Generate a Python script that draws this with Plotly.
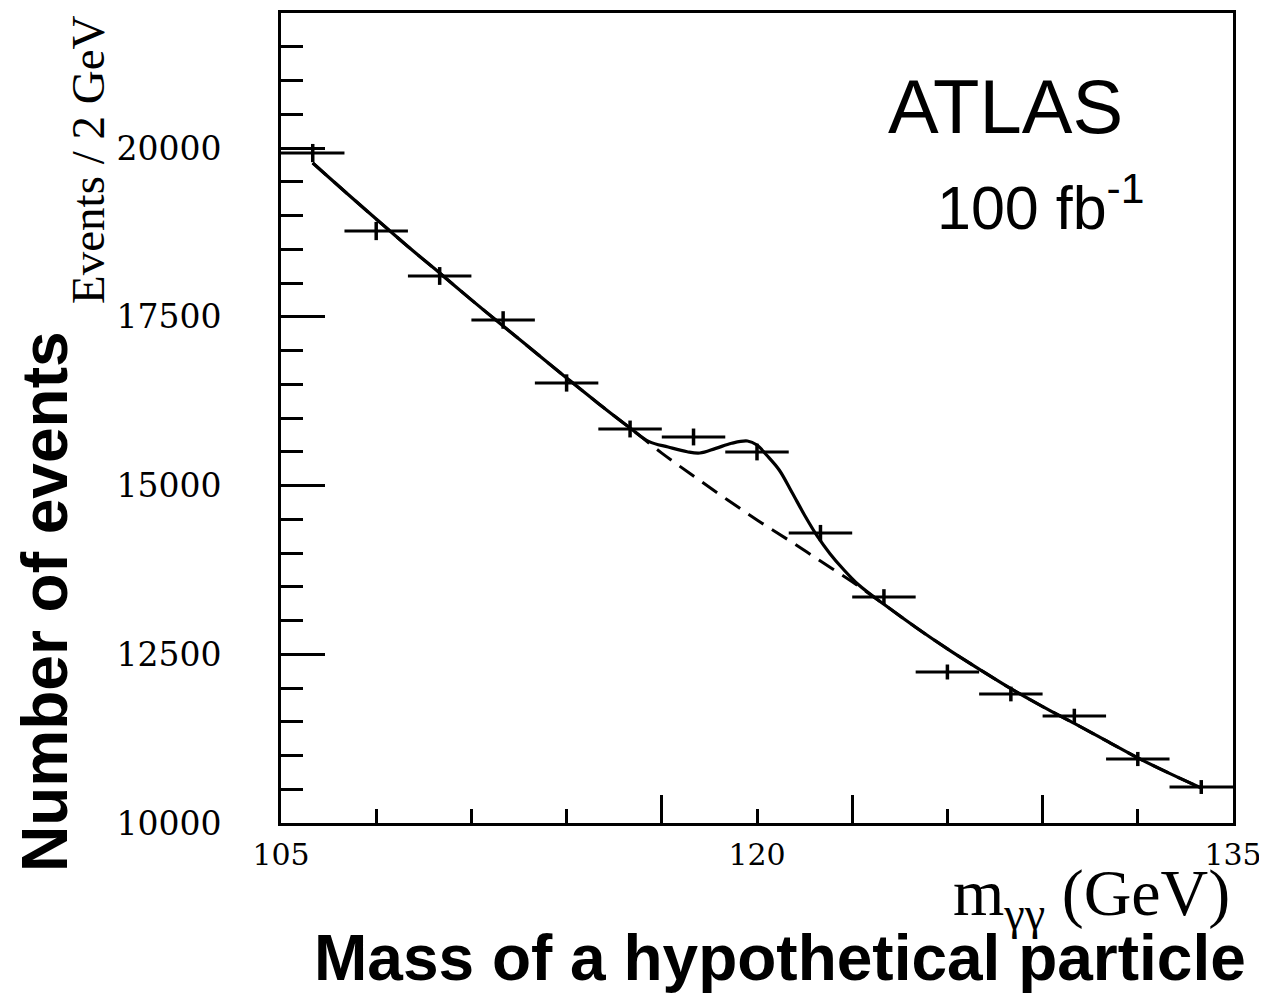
import plotly.graph_objects as go

# ---- data ----
mass = [106, 108, 110, 112, 114, 116, 118, 120, 122, 124, 126, 128, 130, 132, 134]
events = [19925, 18770, 18104, 17452, 16519, 15837, 15719, 15496, 14296, 13348,
          12237, 11911, 11585, 10948, 10533]
events_err = [135, 135, 132, 130, 128, 125, 125, 124, 120, 116, 111, 109, 108, 105, 103]
BIN_WIDTH = 2.0

bkg_mass = [106, 107, 108, 109, 110, 111, 112, 113, 114, 115, 116, 117, 118, 119, 120,
            121, 122, 123, 124, 125, 126, 127, 128, 129, 130, 131, 132, 133, 134]
bkg_events = [19778, 19360, 18948, 18540, 18148, 17750, 17363, 16978, 16593, 16215,
              15852, 15480, 15140, 14810, 14490, 14190, 13880, 13575, 13240, 12900,
              12580, 12280, 11990, 11725, 11475, 11220, 10965, 10735, 10519]

fit_mass = [106, 107, 108, 109, 110, 111, 112, 113, 114, 115, 116, 116.6, 117.2, 117.8,
            118.2, 118.7, 119.2, 119.7, 120.0, 120.3, 120.7, 121.1, 121.5, 121.9, 122.3,
            122.7, 123.2, 124, 125, 126, 127, 128, 129, 130, 131, 132, 133, 134]
fit_events = [19778, 19360, 18948, 18540, 18148, 17750, 17363, 16978, 16593, 16215,
              15852, 15650, 15570, 15500, 15481, 15550, 15625, 15659, 15600, 15452,
              15230, 14900, 14560, 14250, 13990, 13770, 13530, 13240, 12900, 12580,
              12280, 11990, 11725, 11475, 11220, 10965, 10735, 10519]

x_major_ticks = [105, 120, 135]
x_long_ticks = [117, 123, 129]
y_range = [10000, 22000]
x_range = [105, 135]

SERIF = "DejaVu Serif"
TIMES = "Liberation Serif, Times New Roman"
SANS = "Liberation Sans, Arial"

# page has an 8px body margin: keep the figure inside the window
FIG_W, FIG_H = 1259, 986
ML, MT, PW, PH = 273, 5, 952, 810

fig = go.Figure()
fig.add_trace(go.Scatter(
    x=bkg_mass, y=bkg_events, mode="lines",
    line=dict(color="black", width=3, dash="18px,10px", shape="spline"),
    hoverinfo="skip", showlegend=False))
fig.add_trace(go.Scatter(
    x=fit_mass, y=fit_events, mode="lines",
    line=dict(color="black", width=3.2, shape="spline"),
    hoverinfo="skip", showlegend=False))
fig.add_trace(go.Scatter(
    x=mass, y=events, mode="markers",
    marker=dict(size=1, color="black"),
    error_x=dict(type="constant", value=BIN_WIDTH / 2, thickness=3, width=0, color="black"),
    error_y=dict(type="data", array=events_err, thickness=3.5, width=0, color="black"),
    showlegend=False))
# invisible trace to host the secondary x axis (longer ticks)
fig.add_trace(go.Scatter(x=x_range, y=y_range, xaxis="x2", mode="markers",
                         marker=dict(opacity=0), hoverinfo="skip", showlegend=False))

fig.update_layout(
    width=FIG_W, height=FIG_H,
    margin=dict(l=ML, r=FIG_W - ML - PW, t=MT, b=FIG_H - MT - PH, autoexpand=False),
    paper_bgcolor="white", plot_bgcolor="white",
    showlegend=False,
    xaxis=dict(
        range=x_range, tickmode="array", tickvals=x_major_ticks,
        ticks="inside", ticklen=14, tickwidth=3, tickcolor="black",
        minor=dict(dtick=3, tick0=105, ticks="inside", ticklen=14, tickwidth=3,
                   tickcolor="black", showgrid=False),
        showline=True, linewidth=3, linecolor="black", mirror=True,
        showgrid=False, zeroline=False,
        tickfont=dict(family=SERIF, size=30, color="black"),
        ticklabelstandoff=3,
    ),
    xaxis2=dict(
        range=x_range, overlaying="x", anchor="y", side="bottom",
        tickmode="array", tickvals=x_long_ticks,
        ticks="inside", ticklen=28, tickwidth=3, tickcolor="black",
        showticklabels=False, showgrid=False, zeroline=False, showline=False,
    ),
    yaxis=dict(
        range=y_range, tickmode="linear", tick0=10000, dtick=2500, tickformat="d",
        ticks="inside", ticklen=44, tickwidth=3, tickcolor="black",
        minor=dict(dtick=500, tick0=10000, ticks="inside", ticklen=22, tickwidth=3,
                   tickcolor="black", showgrid=False),
        showline=True, linewidth=3, linecolor="black", mirror=True,
        showgrid=False, zeroline=False,
        tickfont=dict(family=SERIF, size=33, color="black"),
        ticklabelstandoff=50,
    ),
)


def px_x(xp):
    return (xp - 281) / PW


def px_y(yp):
    return (823 - yp) / PH


annotations = [
    dict(text="ATLAS", x=px_x(1005), y=px_y(106),
         font=dict(family=SANS, size=76, color="black")),
    dict(text="100 fb<sup>-1</sup>", x=px_x(935), y=px_y(203),
         xanchor="left", font=dict(family=SANS, size=61, color="black")),
    dict(text="Events / 2 GeV", x=px_x(88), y=px_y(160), textangle=-90,
         font=dict(family=TIMES, size=47, color="black")),
    dict(text="m<sub>γγ</sub> (GeV)", x=px_x(1232), y=px_y(897),
         xanchor="right", font=dict(family=TIMES, size=66, color="black")),
    dict(text="<b>Number of events</b>", x=px_x(45), y=px_y(602),
         textangle=-90, font=dict(family=SANS, size=64, color="black")),
    dict(text="<b>Mass of a hypothetical particle</b>", x=px_x(780), y=px_y(958),
         font=dict(family=SANS, size=64, color="black")),
]
for a in annotations:
    a.setdefault("xanchor", "center")
    a.setdefault("yanchor", "middle")
    fig.add_annotation(xref="paper", yref="paper", showarrow=False, **a)

fig.write_html("out.html")
